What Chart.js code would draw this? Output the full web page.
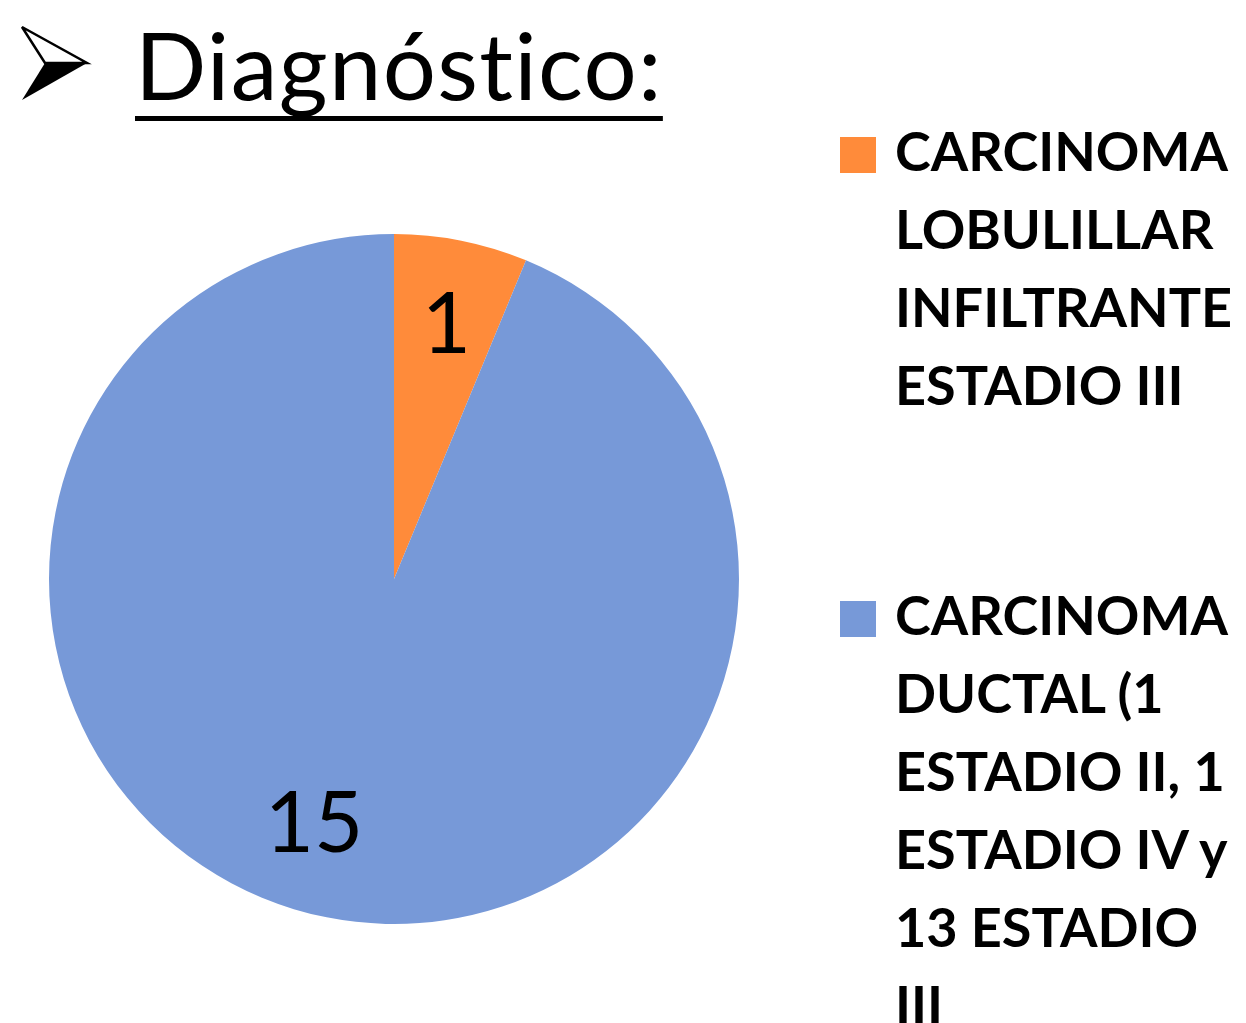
<!DOCTYPE html>
<html>
<head>
<meta charset="utf-8">
<script src="https://cdn.jsdelivr.net/npm/chart.js@4.4.0/dist/chart.umd.min.js"></script>
<style>
  body { margin: 0; background: #fff; width: 1246px; height: 1023px; overflow: hidden; position: relative; font-family: Lato, "Open Sans", sans-serif; font-variant-ligatures: none; }
  #chart { position: absolute; left: 0; top: 0; }
  #arrow { position: absolute; left: 0; top: 0; }
  .title { position: absolute; left: 135px; top: 17px; font-size: 94px; line-height: 93px; color: #000; white-space: nowrap; letter-spacing: 1.3px;
    text-decoration: underline; text-decoration-thickness: 5px; text-underline-offset: 16px; text-decoration-skip-ink: none; }
  .legend-item { position: absolute; left: 838px; font-size: 54px; line-height: 78px; font-weight: bold; color: #000; }
  .legend-item .box { position: absolute; left: 2px; top: 25px; width: 36px; height: 36px; }
  .legend-item .text { margin-left: 57px; white-space: nowrap; }
</style>
</head>
<body>
<svg id="arrow" width="100" height="110">
  <polygon points="45,63 87,63 22,100" fill="#000"/>
  <polygon points="22,27 87,63 45,63" fill="#fff" stroke="#000" stroke-width="2.5" stroke-linejoin="miter"/>
</svg>
<div class="title">Diagnóstico:</div>
<div id="legend"></div>
<canvas id="chart" width="1246" height="1023"></canvas>
<script>
const categories = [
  ["CARCINOMA", "LOBULILLAR", "INFILTRANTE", "ESTADIO III"],
  ["CARCINOMA", "DUCTAL (1", "ESTADIO II, 1", "ESTADIO IV y", "13 ESTADIO", "III"]
];
const counts = [1, 15];
const colors = ["#FF8B3A", "#7799D8"];
const legendTops = [112, 576];

// legend as real text, built from the arrays
const legendEl = document.getElementById("legend");
categories.forEach((lines, i) => {
  const item = document.createElement("div");
  item.className = "legend-item";
  item.style.top = legendTops[i] + "px";
  item.innerHTML = '<div class="box" style="background:' + colors[i] + '"></div><div class="text">' + lines.join("<br>") + "</div>";
  legendEl.appendChild(item);
});

const valueLabels = {
  id: "valueLabels",
  afterDatasetsDraw(chart) {
    const ctx = chart.ctx;
    const meta = chart.getDatasetMeta(0);
    ctx.save();
    ctx.font = "85px Lato, 'Open Sans', sans-serif";
    ctx.fillStyle = "#000";
    ctx.textAlign = "center";
    ctx.textBaseline = "middle";
    meta.data.forEach((arc, i) => {
      const p = arc.getProps(["x", "y", "startAngle", "endAngle", "outerRadius"], true);
      const mid = p.startAngle + (p.endAngle - p.startAngle) * 0.52;
      const r = p.outerRadius * 0.75;
      ctx.fillText(String(chart.data.datasets[0].data[i]), p.x + Math.cos(mid) * r, p.y + Math.sin(mid) * r);
    });
    ctx.restore();
  }
};

new Chart(document.getElementById("chart").getContext("2d"), {
  type: "pie",
  data: {
    labels: categories,
    datasets: [{
      data: counts,
      backgroundColor: colors,
      borderWidth: 0
    }]
  },
  options: {
    responsive: false,
    animation: false,
    layout: { padding: { left: 49, right: 507, top: 234, bottom: 99 } },
    plugins: {
      legend: { display: false },
      tooltip: { enabled: false }
    }
  },
  plugins: [valueLabels]
});
</script>
</body>
</html>
